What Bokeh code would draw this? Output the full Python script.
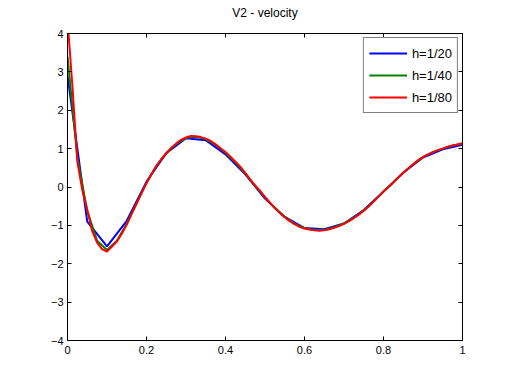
import numpy as np
from bokeh.plotting import figure
from bokeh.models import (LinearAxis, Legend, LegendItem, Range1d, FixedTicker,
                          CustomJSTickFormatter)
from bokeh.embed import file_html
from bokeh.resources import INLINE

# V2 velocity profiles for three mesh sizes
labels = ["h=1/20", "h=1/40", "h=1/80"]
colors = ["#0000ff", "#008000", "#ff0000"]

x20 = np.linspace(0, 1, 21)
v20 = [2.90, -0.90, -1.55, -0.88, 0.14, 0.88, 1.27, 1.22, 0.85, 0.33, -0.30,
       -0.78, -1.07, -1.10, -0.95, -0.60, -0.12, 0.37, 0.77, 0.98, 1.10]

x40 = np.linspace(0, 1, 41)
v40 = [3.40, 0.75, -0.62, -1.40, -1.64, -1.40, -0.96, -0.42, 0.11, 0.55,
       0.88, 1.12, 1.28, 1.31, 1.25, 1.10, 0.89, 0.64, 0.35, 0.03,
       -0.27, -0.55, -0.78, -0.96, -1.07, -1.12, -1.12, -1.05, -0.95, -0.80,
       -0.61, -0.37, -0.12, 0.12, 0.37, 0.59, 0.78, 0.91, 1.00, 1.08, 1.13]

x80 = np.linspace(0, 1, 81)
v80 = [4.36, 2.62, 0.65, -0.08, -0.60, -1.15, -1.45, -1.62, -1.68,
       -1.55, -1.42, -1.22, -0.98, -0.70, -0.43, -0.16, 0.10,
       0.34, 0.55, 0.73, 0.88, 1.02, 1.13, 1.23, 1.29,
       1.33, 1.32, 1.30, 1.26, 1.20, 1.11, 1.01, 0.91,
       0.79, 0.66, 0.53, 0.37, 0.20, 0.04, -0.10, -0.26,
       -0.41, -0.55, -0.68, -0.79, -0.89, -0.97, -1.04, -1.08,
       -1.11, -1.13, -1.14, -1.13, -1.10, -1.06, -1.02, -0.96,
       -0.89, -0.81, -0.72, -0.62, -0.51, -0.38, -0.25, -0.12,
       0.00, 0.12, 0.25, 0.37, 0.48, 0.59, 0.70, 0.78,
       0.85, 0.91, 0.96, 1.00, 1.05, 1.08, 1.11, 1.14]

x_ticks = [0, 0.2, 0.4, 0.6, 0.8, 1]
x_tick_labels = ["0", "0.2", "0.4", "0.6", "0.8", "1"]
y_ticks = [-4, -3, -2, -1, 0, 1, 2, 3, 4]
title_text = "V2 - velocity"

FONT = "Liberation Sans"

p = figure(width=512, height=384, output_backend="svg", toolbar_location=None,
           title=None,
           x_range=Range1d(0, 1), y_range=Range1d(-4, 4),
           x_axis_type=None, y_axis_type=None,
           min_border_left=67, min_border_right=50,
           min_border_top=33, min_border_bottom=44)
p.background_fill_color = "white"
p.border_fill_color = "white"
p.outline_line_color = "black"
p.outline_line_width = 1
p.xgrid.visible = False
p.ygrid.visible = False

blank = CustomJSTickFormatter(code="return ''")


def style_axis(ax, show_labels):
    ax.major_tick_in = 4
    ax.major_tick_out = 0
    ax.minor_tick_in = 0
    ax.minor_tick_out = 0
    ax.axis_line_color = "black"
    ax.major_tick_line_color = "black"
    ax.major_label_text_font = FONT
    ax.major_label_text_font_size = "11px"
    ax.major_label_text_color = "black"
    if not show_labels:
        ax.formatter = blank
        ax.major_label_standoff = 0


xb = LinearAxis(ticker=FixedTicker(ticks=x_ticks),
                major_label_overrides={t: s for t, s in zip(x_ticks, x_tick_labels)})
style_axis(xb, True)
xb.major_label_standoff = 5
p.add_layout(xb, "below")

yl = LinearAxis(ticker=FixedTicker(ticks=y_ticks))
style_axis(yl, True)
yl.major_label_standoff = 4
p.add_layout(yl, "left")

# top frame edge: inward ticks, no tick labels, carries the chart title
xt = LinearAxis(ticker=FixedTicker(ticks=x_ticks), axis_label=title_text)
style_axis(xt, False)
xt.axis_label_text_font = FONT
xt.axis_label_text_font_size = "12px"
xt.axis_label_text_font_style = "normal"
xt.axis_label_text_color = "black"
xt.axis_label_standoff = 14
p.add_layout(xt, "above")

yr = LinearAxis(ticker=FixedTicker(ticks=y_ticks))
style_axis(yr, False)
p.add_layout(yr, "right")

items = []
for xs, vs, lab, col in [(x20, v20, labels[0], colors[0]),
                         (x40, v40, labels[1], colors[1]),
                         (x80, v80, labels[2], colors[2])]:
    r = p.line(list(xs), vs, line_color=col, line_width=2)
    items.append(LegendItem(label=lab, renderers=[r]))

legend = Legend(items=items, location="top_right",
                border_line_color="black", border_line_width=1,
                background_fill_color="white", background_fill_alpha=1,
                label_text_font=FONT, label_text_font_size="13px",
                label_text_color="black",
                glyph_width=38, glyph_height=20, label_height=20,
                spacing=2, padding=5, margin=4, label_standoff=5)
p.add_layout(legend, "center")

open("out.html", "w").write(file_html(p, INLINE))
